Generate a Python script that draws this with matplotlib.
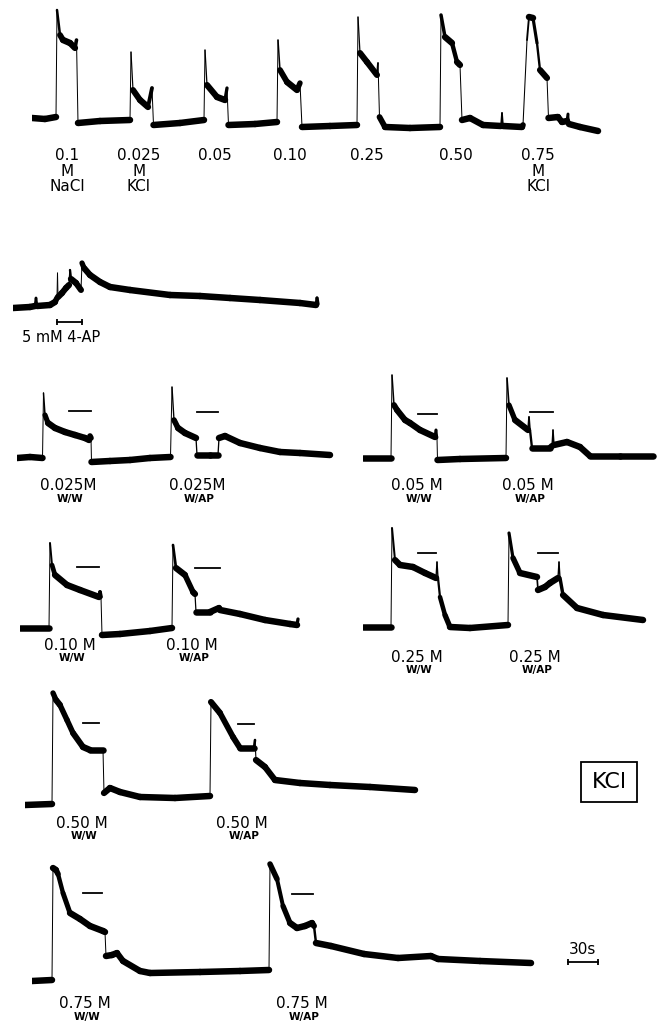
import matplotlib.pyplot as plt
import numpy as np
from matplotlib.collections import LineCollection


## Figure size in pixels (dpi 100)
W, H = 662, 1026
NOISE = 6.5   # vertical width of the noisy pen band, in a.u.

# Time in s, response in arbitrary units (baseline = 0)

# Row 1: NaCl reference and KCl concentration series
top_t = [0, 13, 24, 25, 28, 31, 38, 43, 44.5, 46, 68, 98, 99, 101, 108, 116, 120, 121.5,
         148, 172, 173, 175, 185, 193, 195, 196.5, 223, 245, 246, 248, 255, 265, 268, 270,
         298, 325, 326, 328, 335, 345, 346, 347.5, 353, 378, 408, 409, 413, 420, 425, 428,
         430, 438, 451, 469, 470, 471, 490, 491, 495, 497, 501, 505, 508, 515, 516.5, 526,
         530, 535, 536, 537, 548, 566]
top_v = [4, 3, 5, 112, 87, 82, 79, 74, 82, -1, 1, 2, 70, 32, 22, 15, 34, -3,
         -1, 2, 72, 37, 25, 22, 34, -3, -2, 0, 82, 52, 40, 32, 39, -5,
         -4, -3, 105, 69, 60, 47, 59, 5, -5, -6, -5, 107, 85, 79, 60, 57,
         2, 4, -3, -4, 9, -4, -5, -3, 82, 105, 104, 79, 52, 44, 4, 5,
         0, 1, 8, -2, -5, -9]
top_labels = ["0.1\nM\nNaCl", "0.025\nM\nKCl", "0.05", "0.10", "0.25", "0.50", "0.75\nM\nKCl"]
top_label_t = [35, 107, 183, 258, 335, 424, 506]

# Row 2: 4-AP alone
ap_t = [0, 17, 22, 23, 24, 37, 42, 44, 44.5, 45, 49, 53, 56, 57, 58, 63, 68, 69, 71, 77,
        87, 97, 117, 157, 187, 217, 247, 287, 303, 304, 305]
ap_v = [0, 1, 2, 10, 2, 3, 6, 10, 35, 11, 15, 20, 23, 38, 29, 25, 18, 45, 40, 33,
        26, 21, 18, 13, 12, 10, 8, 5, 3, 10, 4]
ap_bar = (44, 69)

# Rows 3-6: KCl with water (W/W) then with 4-AP (W/AP)
c025_t = [0, 13, 25.5, 26.5, 28, 31, 38, 48, 58, 68, 72, 73, 74, 74.5, 93, 113, 133, 153.5,
          155, 157, 161, 168, 179, 180, 193, 201, 202, 208, 223, 243, 263, 283, 313]
c025_v = [0, 1, 0, 65, 43, 35, 30, 26, 23, 20, 18, 22, 20, -4, -3, -2, 0, 1,
          71, 38, 30, 25, 20, 3, 3, 3, 20, 22, 15, 10, 6, 5, 3]

c05_t = [0, 28, 29, 31, 34, 42, 47, 57, 72, 73, 74, 74.5, 97, 143, 144, 146, 152, 165, 166,
         167, 169, 187, 189, 190, 191, 204, 217, 227, 257, 290]
c05_v = [0, 0, 83, 53, 48, 38, 35, 28, 21, 28, 20, -2, -1, 0, 80, 53, 38, 28, 41,
         28, 10, 10, 12, 28, 13, 16, 11, 2, 2, 2]

c10_t = [0, 29, 30, 32, 35, 47, 60, 79, 80, 81, 82, 100, 130, 152, 153, 156, 165, 173, 175,
         176, 190, 199, 200, 220, 245, 270, 277, 278]
c10_v = [0, 0, 85, 63, 53, 43, 38, 31, 36, 31, -7, -6, -3, 0, 83, 60, 53, 36, 34,
         16, 16, 20, 18, 14, 8, 4, 3, 9]

c25_t = [0, 28, 29, 32, 37, 50, 62, 73, 74, 75, 77, 82, 87, 107, 145, 146, 150, 157, 174,
         175, 182, 187, 195, 196, 197, 200, 214, 240, 280]
c25_v = [0, 0, 99, 67, 62, 60, 54, 49, 65, 49, 30, 12, 0, -1, 2, 94, 69, 54, 50,
         37, 40, 44, 49, 65, 49, 32, 19, 12, 7]

c50_t = [0, 27, 28, 31, 35, 42, 48, 58, 65, 78, 79, 85, 95, 115, 150, 185, 186, 195, 208,
         215, 229, 230, 231, 240, 250, 275, 305, 345, 390]
c50_v = [0, 1, 112, 105, 100, 85, 72, 58, 55, 55, 12, 17, 13, 8, 7, 9, 103, 92, 68,
         57, 57, 65, 45, 38, 25, 22, 20, 18, 15]

c75_t = [0, 20, 21, 24, 26, 31, 38, 48, 58, 71, 73, 74, 80, 85, 91, 108, 118, 168, 208, 237,
         238, 245, 251, 258, 265, 273, 280, 282, 284, 299, 332, 366, 399, 406, 448, 499]
c75_v = [0, 1, 113, 111, 107, 88, 68, 62, 55, 50, 49, 25, 26, 28, 20, 10, 8, 9, 10, 11,
         117, 102, 75, 58, 53, 55, 58, 55, 38, 35, 27, 23, 25, 22, 20, 18]

pair_conc = ["0.025M", "0.05 M", "0.10 M", "0.25 M", "0.50 M", "0.75 M"]
# stimulus bars (start, end, level) for W/W and W/AP
pair_bars = [[(52, 74, 47), (180, 201, 46)],
             [(55, 74, 44), (167, 190, 46)],
             [(57, 79, 61), (175, 200, 60)],
             [(55, 73, 74), (175, 195, 74)],
             [(58, 74, 82), (213, 229, 81)],
             [(51, 70, 88), (260, 281, 87)]]
pair_label_t = [(51, 180), (54, 165), (50, 172), (54, 172), (57, 217), (53, 270)]
pair_label_v = [-28, -28, -17, -30, -18, -23]

scale_bar = (536, 566)   # 30 s


def trace(ax, t, v):
    # thin where the pen moves fast, thick where it crawls
    t = np.asarray(t, float)
    v = np.asarray(v, float)
    pts = np.column_stack([t, v]).reshape(-1, 1, 2)
    segs = np.concatenate([pts[:-1], pts[1:]], axis=1)
    slope = np.diff(v) / np.maximum(np.diff(t), 1e-6)
    lw = np.maximum(NOISE / np.sqrt(1 + (slope / 3.5) ** 2), 1.0) * 0.72
    ax.add_collection(LineCollection(segs, linewidths=lw, colors='k',
                                     capstyle='round', joinstyle='round'))


def panel(x0, y0, width, lo=30, hi=130):
    ax = fig.add_axes([x0 / W, (H - y0 - lo) / H, width / W, (lo + hi) / H])
    ax.set_xlim(0, width)
    ax.set_ylim(-lo, hi)
    ax.axis('off')
    return ax


def stim_bar(ax, bar):
    ax.plot([bar[0], bar[1]], [bar[2], bar[2]], color='k', lw=1.3)


def pair_labels(ax, i):
    for j, sub in enumerate(["W/W", "W/AP"]):
        t = pair_label_t[i][j]
        v = pair_label_v[i]
        ax.text(t, v, pair_conc[i], ha='center', va='center', fontsize=11)
        ax.text(t + 2, v - 13, sub, ha='center', va='center', fontsize=7.5,
                fontweight='bold')


fig = plt.figure(figsize=(W / 100, H / 100), dpi=100)

# Row 1
ax = panel(32, 122, 580)
trace(ax, top_t, top_v)
for lab, t in zip(top_labels, top_label_t):
    ax.text(t, -26, lab, ha='center', va='top', fontsize=11, linespacing=1.05)

# Row 2
ax = panel(13, 308, 320)
trace(ax, ap_t, ap_v)
ax.plot(ap_bar, [-14, -14], color='k', lw=1.3, marker='|', markersize=5, mew=1.3)
ax.text(9, -30, "5 mM 4-AP", ha='left', va='center', fontsize=10.5)

# Rows 3-6
pairs = [(17, 458, 320, c025_t, c025_v),
         (363, 458, 295, c05_t, c05_v),
         (20, 628, 285, c10_t, c10_v),
         (363, 627, 285, c25_t, c25_v),
         (25, 805, 395, c50_t, c50_v),
         (32, 981, 600, c75_t, c75_v)]
for i, (x0, y0, wid, t, v) in enumerate(pairs):
    ax = panel(x0, y0, wid, lo=50)
    trace(ax, t, v)
    for bar in pair_bars[i]:
        stim_bar(ax, bar)
    pair_labels(ax, i)

# time scale (in last panel)
ax.plot(scale_bar, [19, 19], color='k', lw=1.3, marker='|', markersize=5, mew=1.3)
ax.text(np.mean(scale_bar), 32, "30s", ha='center', va='center', fontsize=11)

fig.text(609 / W, 1 - 782 / H, "KCl", ha='center', va='center', fontsize=16,
         bbox=dict(boxstyle='square,pad=0.45', fc='white', ec='k', lw=1.3))

fig.savefig('out.png', dpi=100)
